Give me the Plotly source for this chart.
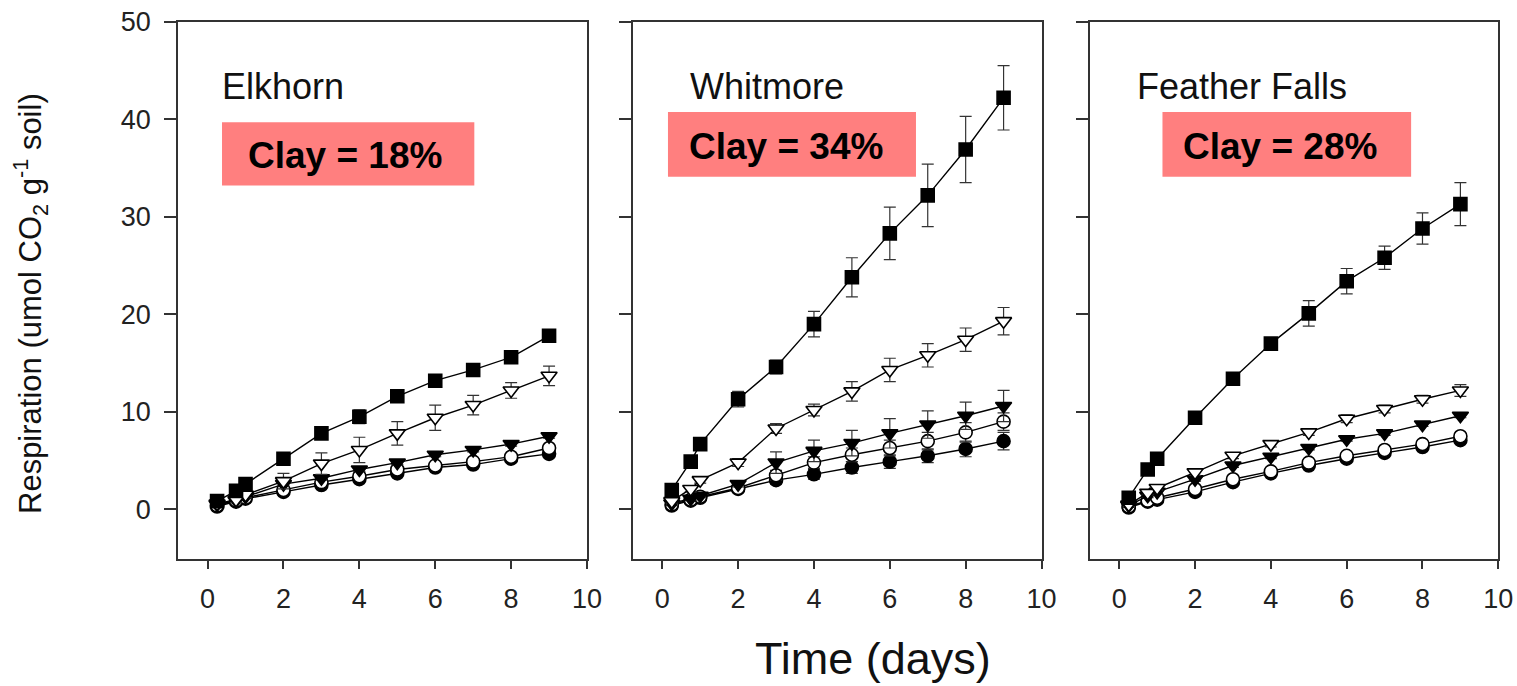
import plotly.graph_objects as go

# ---------------- data ----------------
days = [0.25, 0.75, 1, 2, 3, 4, 5, 6, 7, 8, 9]
sites = ["Elkhorn", "Whitmore", "Feather Falls"]
clay_labels = ["Clay = 18%", "Clay = 34%", "Clay = 28%"]

# Elkhorn
elk_sq = [0.85, 1.9, 2.6, 5.2, 7.8, 9.5, 11.6, 13.2, 14.3, 15.6, 17.8]
elk_sq_err = [0.3, 0.3, 0.3, 0.6, 0.6, 0.7, 0.6, 0.4, 0.4, 0.4, 0.4]
elk_tro = [0.6, 1.0, 1.5, 2.9, 4.7, 6.1, 7.8, 9.4, 10.7, 12.2, 13.7]
elk_tro_err = [0.2, 0.3, 0.3, 0.8, 1.1, 1.3, 1.2, 1.3, 1.0, 0.8, 1.0]
elk_trf = [0.5, 0.9, 1.3, 2.6, 3.2, 4.1, 4.8, 5.6, 6.1, 6.7, 7.5]
elk_trf_err = [0.2] * 11
elk_cio = [0.4, 0.9, 1.2, 2.0, 2.8, 3.4, 4.1, 4.5, 4.9, 5.4, 6.3]
elk_cio_err = [0.2] * 11
elk_cif = [0.3, 0.8, 1.1, 1.8, 2.5, 3.1, 3.7, 4.3, 4.6, 5.2, 5.7]
elk_cif_err = [0.2] * 11

# Whitmore
wht_sq = [2.0, 4.9, 6.7, 11.3, 14.6, 19.0, 23.8, 28.3, 32.2, 36.9, 42.2]
wht_sq_err = [0.3, 0.4, 0.5, 0.8, 0.7, 1.3, 2.0, 2.7, 3.2, 3.4, 3.3]
wht_tro = [0.85, 2.1, 3.0, 4.8, 8.3, 10.2, 12.1, 14.3, 15.8, 17.4, 19.3]
wht_tro_err = [0.2, 0.3, 0.3, 0.4, 0.5, 0.6, 1.0, 1.2, 1.2, 1.2, 1.4]
wht_trf = [0.6, 1.1, 1.4, 2.6, 4.8, 6.0, 6.8, 7.8, 8.7, 9.6, 10.6]
wht_trf_err = [0.2, 0.2, 0.2, 0.3, 1.1, 1.1, 1.3, 1.5, 1.4, 1.4, 1.6]
wht_cio = [0.5, 1.0, 1.3, 2.2, 3.5, 4.8, 5.6, 6.3, 7.0, 7.9, 9.0]
wht_cio_err = [0.2, 0.2, 0.2, 0.3, 0.5, 0.6, 0.7, 0.8, 0.9, 1.0, 0.9]
wht_cif = [0.4, 0.9, 1.2, 2.1, 3.0, 3.6, 4.3, 4.9, 5.5, 6.2, 7.0]
wht_cif_err = [0.2, 0.2, 0.2, 0.3, 0.4, 0.5, 0.6, 0.7, 0.7, 0.8, 0.9]

# Feather Falls
ff_sq = [1.2, 4.1, 5.2, 9.4, 13.4, 17.0, 20.1, 23.4, 25.8, 28.8, 31.3]
ff_sq_err = [0.3, 0.3, 0.3, 0.4, 0.4, 0.5, 1.3, 1.3, 1.2, 1.6, 2.2]
ff_tro = [0.5, 1.7, 2.2, 3.8, 5.5, 6.7, 7.9, 9.3, 10.3, 11.3, 12.2]
ff_tro_err = [0.2, 0.2, 0.2, 0.3, 0.3, 0.3, 0.3, 0.4, 0.4, 0.4, 0.6]
ff_trf = [0.4, 1.4, 1.8, 3.1, 4.5, 5.4, 6.3, 7.2, 7.8, 8.7, 9.6]
ff_trf_err = [0.2] * 11
ff_cio = [0.3, 0.9, 1.2, 2.1, 3.1, 3.9, 4.8, 5.5, 6.1, 6.7, 7.5]
ff_cio_err = [0.2] * 11
ff_cif = [0.2, 0.8, 1.0, 1.8, 2.8, 3.7, 4.5, 5.2, 5.8, 6.4, 7.1]
ff_cif_err = [0.2] * 11

x_ticks = [0, 2, 4, 6, 8, 10]
y_ticks = [0, 10, 20, 30, 40, 50]

panels = [
    [(elk_cif, elk_cif_err), (elk_cio, elk_cio_err), (elk_trf, elk_trf_err), (elk_tro, elk_tro_err), (elk_sq, elk_sq_err)],
    [(wht_cif, wht_cif_err), (wht_cio, wht_cio_err), (wht_trf, wht_trf_err), (wht_tro, wht_tro_err), (wht_sq, wht_sq_err)],
    [(ff_cif, ff_cif_err), (ff_cio, ff_cio_err), (ff_trf, ff_trf_err), (ff_tro, ff_tro_err), (ff_sq, ff_sq_err)],
]
# series styles (filled circle, open circle, filled tri, open tri, filled square)
styles = [
    dict(symbol="circle", color="black", size=13),
    dict(symbol="circle", color="white", size=13),
    dict(symbol="triangle-down", color="black", size=14),
    dict(symbol="triangle-down", color="white", size=14),
    dict(symbol="square", color="black", size=13),
]

FONT = "Arial, Liberation Sans, sans-serif"
OFF = 0  # body margin is removed by the post script below
W, H = 1517, 686


def px_x(px):
    return (px - OFF) / W


def px_y(py):
    return 1 - (py - OFF) / H


fig = go.Figure()

for p, series in enumerate(panels):
    suffix = "" if p == 0 else str(p + 1)
    for (vals, errs), st in zip(series, styles):
        fig.add_trace(go.Scatter(
            x=days, y=vals, mode="lines+markers",
            xaxis="x" + suffix, yaxis="y" + suffix,
            line=dict(color="black", width=1.4),
            marker=dict(symbol=st["symbol"], size=st["size"], color=st["color"],
                        line=dict(color="black", width=1.6)),
            error_y=dict(type="data", array=errs, visible=True,
                         color="#333333", thickness=1.2, width=6),
            showlegend=False, hoverinfo="skip",
        ))

x_domains = [(px_x(178), px_x(587)), (px_x(632.7), px_x(1041.5)), (px_x(1089.7), px_x(1498.3))]
y_domain = (px_y(558.7), px_y(21.7))

axis_common = dict(showline=True, linecolor="#333333", linewidth=1.5, mirror=True,
                   ticks="outside", tickcolor="#333333", tickwidth=1.5,
                   showgrid=False, zeroline=False, automargin=False,
                   ticklabeloverflow="allow",
                   tickfont=dict(family=FONT, size=27, color="#222222"))
layout = dict(width=W, height=H, margin=dict(l=0, r=0, t=0, b=0),
              plot_bgcolor="white", paper_bgcolor="white", showlegend=False)
for p in range(3):
    suffix = "" if p == 0 else str(p + 1)
    layout["xaxis" + suffix] = dict(axis_common, domain=x_domains[p], range=[-0.78, 10],
                                    tickvals=x_ticks, anchor="y" + suffix, ticklen=9,
                                    ticklabelstandoff=6)
    layout["yaxis" + suffix] = dict(axis_common, domain=y_domain, range=[-5.05, 50],
                                    tickvals=y_ticks, anchor="x" + suffix, ticklen=12,
                                    ticklabelstandoff=8, showticklabels=(p == 0))
fig.update_layout(**layout)

# Clay boxes and labels
box_x = [(0.38, 7.03), (0.15, 6.69), (1.14, 7.70)]
box_y = [(33.2, 39.7), (34.1, 40.75), (34.1, 40.75)]
text_dx = [0.62, 0.5, 0.5]
name_x = [0.34, 0.69, 0.42]
for p in range(3):
    suffix = "" if p == 0 else str(p + 1)
    xr, yr = "x" + suffix, "y" + suffix
    fig.add_shape(type="rect", xref=xr, yref=yr, x0=box_x[p][0], x1=box_x[p][1],
                  y0=box_y[p][0], y1=box_y[p][1], fillcolor="#FF7F7F",
                  line=dict(width=0), layer="below")
    fig.add_annotation(xref=xr, yref=yr, x=box_x[p][0] + text_dx[p],
                       y=(box_y[p][0] + box_y[p][1]) / 2 - 0.2,
                       text="<b>" + clay_labels[p] + "</b>", showarrow=False,
                       xanchor="left", yanchor="middle",
                       font=dict(family=FONT, size=37, color="black"))
    fig.add_annotation(xref=xr, yref=yr, x=name_x[p], y=43.4, text=sites[p],
                       showarrow=False, xanchor="left", yanchor="middle",
                       font=dict(family=FONT, size=36, color="#111111"))

fig.add_annotation(xref="paper", yref="paper", x=px_x(873), y=px_y(658),
                   text="Time (days)", showarrow=False, xanchor="center", yanchor="middle",
                   font=dict(family=FONT, size=45, color="#111111"))
fig.add_annotation(xref="paper", yref="paper", x=px_x(30), y=px_y(304),
                   text="Respiration (umol CO<sub>2</sub> g<sup>-1</sup> soil)", textangle=-90,
                   showarrow=False, xanchor="center", yanchor="middle",
                   font=dict(family=FONT, size=31, color="#111111"))

fig.write_html("out.html", config={"displayModeBar": False},
               post_script="document.body.style.margin='0px'; document.body.style.overflow='hidden';")
